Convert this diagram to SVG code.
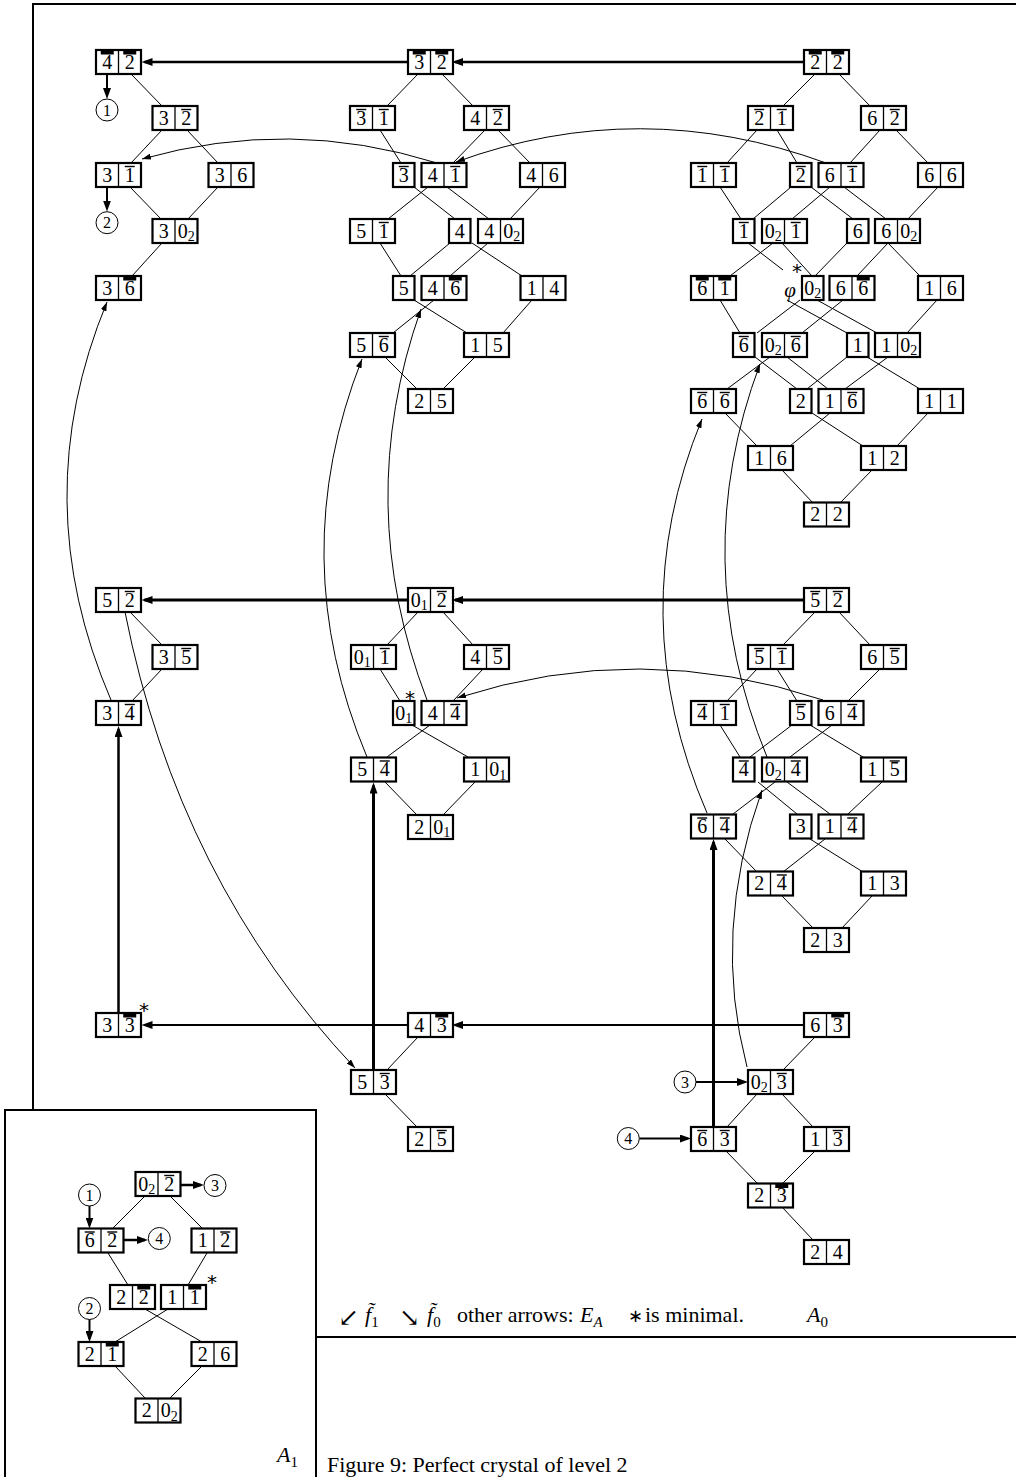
<svg xmlns="http://www.w3.org/2000/svg" width="1016" height="1477" viewBox="0 0 1016 1477">
<style>
.b{fill:#fff;stroke:#000;stroke-width:2.2}
.d{stroke:#000;stroke-width:1.3}
.o{stroke:#000;stroke-width:1.4}
.k{fill:#000}
.t{font-family:"Liberation Serif",serif;font-size:20px;text-anchor:middle;fill:#000}
.s{font-size:14px}
.e{stroke:#000;stroke-width:1;fill:none}
.arc{stroke:#000;stroke-width:1;fill:none;marker-end:url(#as)}
.th{stroke:#000;fill:none;marker-end:url(#ah)}
.ci{fill:none;stroke:#000;stroke-width:1}
.cn{font-family:"Liberation Serif",serif;font-size:16px;text-anchor:middle}
.fr{stroke:#000;stroke-width:2;fill:none}
.lg{font-family:"Liberation Serif",serif;font-size:22px}
.st{font-family:"DejaVu Sans",sans-serif;font-size:20px;text-anchor:middle}
</style>
<defs>
<marker id="ah" markerWidth="12" markerHeight="8" refX="8" refY="4" orient="auto" markerUnits="userSpaceOnUse"><path d="M0,0 L11,4 L0,8z"/></marker>
<marker id="as" markerWidth="10" markerHeight="6" refX="9" refY="3" orient="auto" markerUnits="userSpaceOnUse"><path d="M0,0 L9,3 L0,6z"/></marker>
</defs>
<rect width="1016" height="1477" fill="#fff"/>
<g id="frames">
<path class="fr" d="M33,1110 L33,4 L1016,4"/>
<path class="fr" d="M316,1337 L1016,1337"/>
<path class="fr" d="M5,1477 L5,1110 L316,1110 L316,1477"/>
</g>
<g id="connectors">
<path class="e" d="M131,74L162,106M162,130L131,163M187,130L218,163M130,187L161,219M218,187L188,219M162,243L132,276"/>
<path class="e" d="M418,74L387,106M442,74L473,106M380,130L401,163M485,130L453,163M498,130L530,163M414,187L455,219M428,187L388,219M447,187L489,219M540,187L510,219M380,243L401,276M450,243L410,276M472,243L522,276M488,243L450,276M414,300L467,333M434,300L393,333M532,300L503,333M385,357L417,389M475,357L443,389"/>
<path class="e" d="M815,74L783,106M839,74L870,106M757,130L727,163M777,130L797,163M880,130L850,163M896,130L928,163M720,187L741,219M791,187L753,219M811,187L853,219M830,187L792,219M844,187L886,219M938,187L908,219"/>
<path class="e" d="M773,243L730,276M748,243L783,270M782,243L812,276M847,243L815,276M888,243L857,276M888,243L920,276"/>
<path class="e" d="M720,300L740,333M800,300L757,333M787,300L847,333M843,300L802,333M817,300L877,333M937,300L907,333"/>
<path class="e" d="M755,357L797,389M770,357L727,389M787,357L828,389M847,357L807,389M867,357L920,389M888,357L845,389M725,413L757,446M830,413L790,446M812,413L863,446M928,413L897,446M782,470L813,503M872,470L840,503"/>
<path class="e" d="M130,612L162,645M162,669L132,701"/>
<path class="e" d="M418,612L387,645M443,612L473,645M380,669L400,701M483,669L453,701M412,725L468,757M430,725L387,757M385,782L417,815M475,782L443,815"/>
<path class="e" d="M815,612L783,645M839,612L870,645M757,669L727,701M777,669L797,701M880,669L848,701M720,725L740,757M792,725L750,757M832,725L790,757M810,725L863,757M775,782L733,814M758,782L797,814M787,782L830,814M882,782L848,814M725,839L757,872M825,839L783,872M810,839L863,872M782,896L813,928M872,896L842,928"/>
<path class="e" d="M418,1037L387,1070M385,1094L417,1127M815,1037L783,1070M757,1094L727,1127M782,1094L813,1127M726,1151L757,1183M815,1151L783,1183M782,1207L813,1240"/>
<path class="e" d="M145,1196L113,1228M170,1196L202,1228M108,1253L128,1285M207,1253L188,1285M145,1309L202,1342M168,1309L115,1342M115,1366L145,1398M202,1366L170,1398"/>
<path class="arc" d="M826,163 Q640,95 456,162"/>
<path class="arc" d="M437,163 Q290,117 142,159"/>
<path class="arc" d="M823,700 Q640,639 457,698"/>
<path class="arc" d="M111,700 Q25,500 107,302"/>
<path class="arc" d="M367,757 Q283.5,558 362,359"/>
<path class="arc" d="M427,700 Q352,504 421,309"/>
<path class="arc" d="M707,813 Q621.5,614.5 702,419"/>
<path class="arc" d="M767,757 Q686.5,560 760,364"/>
<path class="arc" d="M747,1067 Q711.5,931.5 762,790"/>
<path class="arc" d="M125,612 Q178,880 355,1068"/>
<path class="th" stroke-width="2.3" d="M804,62 L455,62"/>
<path class="th" stroke-width="2.3" d="M408,62 L144.5,62"/>
<path class="th" stroke-width="3" d="M804,600 L455,600"/>
<path class="th" stroke-width="3" d="M408,600 L144.5,600"/>
<path class="th" stroke-width="2" d="M804,1025 L455,1025"/>
<path class="th" stroke-width="2" d="M408,1025 L144.5,1025"/>
<path class="th" stroke-width="2.5" d="M118.5,1013 L118.5,729"/>
<path class="th" stroke-width="3" d="M373.5,1070 L373.5,785.5"/>
<path class="th" stroke-width="3" d="M713.5,1127 L713.5,842"/>
<path class="th" stroke-width="2" d="M107,74 L107,96"/>
<path class="th" stroke-width="2" d="M107,187 L107,208.5"/>
<path class="th" stroke-width="2" d="M696,1082 L745,1082"/>
<path class="th" stroke-width="2" d="M639.5,1138.5 L688,1138.5"/>
<path class="th" stroke-width="2" d="M89.5,1206 L89.5,1225.5"/>
<path class="th" stroke-width="2" d="M89.5,1319.5 L89.5,1339"/>
<path class="th" stroke-width="2.5" d="M180,1185 L201,1185"/>
<path class="th" stroke-width="2.5" d="M123.5,1240 L145,1240"/>
</g>
<g id="circles">
<circle class="ci" cx="107" cy="110" r="11"/><text class="cn" x="107" y="115.5">1</text>
<circle class="ci" cx="107" cy="222.7" r="11"/><text class="cn" x="107" y="228.2">2</text>
<circle class="ci" cx="685" cy="1082" r="11"/><text class="cn" x="685" y="1087.5">3</text>
<circle class="ci" cx="628.3" cy="1138.5" r="11"/><text class="cn" x="628.3" y="1144">4</text>
<circle class="ci" cx="89.5" cy="1195" r="11"/><text class="cn" x="89.5" y="1200.5">1</text>
<circle class="ci" cx="215" cy="1185.5" r="11"/><text class="cn" x="215" y="1191">3</text>
<circle class="ci" cx="159.3" cy="1238.5" r="11"/><text class="cn" x="159.3" y="1244">4</text>
<circle class="ci" cx="89.5" cy="1308.5" r="11"/><text class="cn" x="89.5" y="1314">2</text>
</g>
<g id="n1"><rect class="b" x="96" y="50" width="45" height="24"/><line class="d" x1="118.5" y1="50" x2="118.5" y2="74"/><rect class="k" x="100.75" y="50" width="13" height="4.5"/><rect class="k" x="123.25" y="50" width="13" height="4.5"/><text class="t" x="107.25" y="68.5">4</text><text class="t" x="129.75" y="68.5">2</text></g>
<g id="n2"><rect class="b" x="152.5" y="106" width="45" height="24"/><line class="d" x1="175" y1="106" x2="175" y2="130"/><line class="o" x1="181.25" y1="109.5" x2="191.25" y2="109.5"/><text class="t" x="163.75" y="124.5">3</text><text class="t" x="186.25" y="124.5">2</text></g>
<g id="n3"><rect class="b" x="96" y="163" width="45" height="24"/><line class="d" x1="118.5" y1="163" x2="118.5" y2="187"/><line class="o" x1="124.75" y1="166.5" x2="134.75" y2="166.5"/><text class="t" x="107.25" y="181.5">3</text><text class="t" x="129.75" y="181.5">1</text></g>
<g id="n4"><rect class="b" x="208.5" y="163" width="45" height="24"/><line class="d" x1="231" y1="163" x2="231" y2="187"/><text class="t" x="219.75" y="181.5">3</text><text class="t" x="242.25" y="181.5">6</text></g>
<g id="n5"><rect class="b" x="152.5" y="219" width="45" height="24"/><line class="d" x1="175" y1="219" x2="175" y2="243"/><text class="t" x="163.75" y="237.5">3</text><text class="t" x="186.25" y="237.5">0<tspan class="s" dy="3.5">2</tspan></text></g>
<g id="n6"><rect class="b" x="96" y="276" width="45" height="24"/><line class="d" x1="118.5" y1="276" x2="118.5" y2="300"/><rect class="k" x="123.25" y="276" width="13" height="4.5"/><text class="t" x="107.25" y="294.5">3</text><text class="t" x="129.75" y="294.5">6</text></g>
<g id="n7"><rect class="b" x="408" y="50" width="45" height="24"/><line class="d" x1="430.5" y1="50" x2="430.5" y2="74"/><rect class="k" x="412.75" y="50" width="13" height="4.5"/><rect class="k" x="435.25" y="50" width="13" height="4.5"/><text class="t" x="419.25" y="68.5">3</text><text class="t" x="441.75" y="68.5">2</text></g>
<g id="n8"><rect class="b" x="350" y="106" width="45" height="24"/><line class="d" x1="372.5" y1="106" x2="372.5" y2="130"/><line class="o" x1="356.25" y1="109.5" x2="366.25" y2="109.5"/><line class="o" x1="378.75" y1="109.5" x2="388.75" y2="109.5"/><text class="t" x="361.25" y="124.5">3</text><text class="t" x="383.75" y="124.5">1</text></g>
<g id="n9"><rect class="b" x="464" y="106" width="45" height="24"/><line class="d" x1="486.5" y1="106" x2="486.5" y2="130"/><line class="o" x1="492.75" y1="109.5" x2="502.75" y2="109.5"/><text class="t" x="475.25" y="124.5">4</text><text class="t" x="497.75" y="124.5">2</text></g>
<g id="n10"><rect class="b" x="393" y="163" width="21.5" height="24"/><line class="o" x1="398.75" y1="166.5" x2="408.75" y2="166.5"/><text class="t" x="403.75" y="181.5">3</text></g>
<g id="n11"><rect class="b" x="421.5" y="163" width="45" height="24"/><line class="d" x1="444" y1="163" x2="444" y2="187"/><line class="o" x1="450.25" y1="166.5" x2="460.25" y2="166.5"/><text class="t" x="432.75" y="181.5">4</text><text class="t" x="455.25" y="181.5">1</text></g>
<g id="n12"><rect class="b" x="520" y="163" width="45" height="24"/><line class="d" x1="542.5" y1="163" x2="542.5" y2="187"/><text class="t" x="531.25" y="181.5">4</text><text class="t" x="553.75" y="181.5">6</text></g>
<g id="n13"><rect class="b" x="350" y="219" width="45" height="24"/><line class="d" x1="372.5" y1="219" x2="372.5" y2="243"/><line class="o" x1="378.75" y1="222.5" x2="388.75" y2="222.5"/><text class="t" x="361.25" y="237.5">5</text><text class="t" x="383.75" y="237.5">1</text></g>
<g id="n14"><rect class="b" x="449" y="219" width="21.5" height="24"/><text class="t" x="459.75" y="237.5">4</text></g>
<g id="n15"><rect class="b" x="478" y="219" width="45" height="24"/><line class="d" x1="500.5" y1="219" x2="500.5" y2="243"/><text class="t" x="489.25" y="237.5">4</text><text class="t" x="511.75" y="237.5">0<tspan class="s" dy="3.5">2</tspan></text></g>
<g id="n16"><rect class="b" x="393" y="276" width="21.5" height="24"/><text class="t" x="403.75" y="294.5">5</text></g>
<g id="n17"><rect class="b" x="421.5" y="276" width="45" height="24"/><line class="d" x1="444" y1="276" x2="444" y2="300"/><rect class="k" x="448.75" y="276" width="13" height="4.5"/><text class="t" x="432.75" y="294.5">4</text><text class="t" x="455.25" y="294.5">6</text></g>
<g id="n18"><rect class="b" x="520.5" y="276" width="45" height="24"/><line class="d" x1="543" y1="276" x2="543" y2="300"/><text class="t" x="531.75" y="294.5">1</text><text class="t" x="554.25" y="294.5">4</text></g>
<g id="n19"><rect class="b" x="350" y="333" width="45" height="24"/><line class="d" x1="372.5" y1="333" x2="372.5" y2="357"/><line class="o" x1="378.75" y1="336.5" x2="388.75" y2="336.5"/><text class="t" x="361.25" y="351.5">5</text><text class="t" x="383.75" y="351.5">6</text></g>
<g id="n20"><rect class="b" x="464" y="333" width="45" height="24"/><line class="d" x1="486.5" y1="333" x2="486.5" y2="357"/><text class="t" x="475.25" y="351.5">1</text><text class="t" x="497.75" y="351.5">5</text></g>
<g id="n21"><rect class="b" x="408" y="389" width="45" height="24"/><line class="d" x1="430.5" y1="389" x2="430.5" y2="413"/><text class="t" x="419.25" y="407.5">2</text><text class="t" x="441.75" y="407.5">5</text></g>
<g id="n22"><rect class="b" x="804" y="50" width="45" height="24"/><line class="d" x1="826.5" y1="50" x2="826.5" y2="74"/><rect class="k" x="808.75" y="50" width="13" height="4.5"/><rect class="k" x="831.25" y="50" width="13" height="4.5"/><text class="t" x="815.25" y="68.5">2</text><text class="t" x="837.75" y="68.5">2</text></g>
<g id="n23"><rect class="b" x="748" y="106" width="45" height="24"/><line class="d" x1="770.5" y1="106" x2="770.5" y2="130"/><line class="o" x1="754.25" y1="109.5" x2="764.25" y2="109.5"/><line class="o" x1="776.75" y1="109.5" x2="786.75" y2="109.5"/><text class="t" x="759.25" y="124.5">2</text><text class="t" x="781.75" y="124.5">1</text></g>
<g id="n24"><rect class="b" x="861" y="106" width="45" height="24"/><line class="d" x1="883.5" y1="106" x2="883.5" y2="130"/><line class="o" x1="889.75" y1="109.5" x2="899.75" y2="109.5"/><text class="t" x="872.25" y="124.5">6</text><text class="t" x="894.75" y="124.5">2</text></g>
<g id="n25"><rect class="b" x="691" y="163" width="45" height="24"/><line class="d" x1="713.5" y1="163" x2="713.5" y2="187"/><line class="o" x1="697.25" y1="166.5" x2="707.25" y2="166.5"/><line class="o" x1="719.75" y1="166.5" x2="729.75" y2="166.5"/><text class="t" x="702.25" y="181.5">1</text><text class="t" x="724.75" y="181.5">1</text></g>
<g id="n26"><rect class="b" x="790" y="163" width="21.5" height="24"/><line class="o" x1="795.75" y1="166.5" x2="805.75" y2="166.5"/><text class="t" x="800.75" y="181.5">2</text></g>
<g id="n27"><rect class="b" x="818.5" y="163" width="45" height="24"/><line class="d" x1="841" y1="163" x2="841" y2="187"/><line class="o" x1="847.25" y1="166.5" x2="857.25" y2="166.5"/><text class="t" x="829.75" y="181.5">6</text><text class="t" x="852.25" y="181.5">1</text></g>
<g id="n28"><rect class="b" x="918" y="163" width="45" height="24"/><line class="d" x1="940.5" y1="163" x2="940.5" y2="187"/><text class="t" x="929.25" y="181.5">6</text><text class="t" x="951.75" y="181.5">6</text></g>
<g id="n29"><rect class="b" x="733" y="219" width="21.5" height="24"/><line class="o" x1="738.75" y1="222.5" x2="748.75" y2="222.5"/><text class="t" x="743.75" y="237.5">1</text></g>
<g id="n30"><rect class="b" x="762" y="219" width="45" height="24"/><line class="d" x1="784.5" y1="219" x2="784.5" y2="243"/><line class="o" x1="790.75" y1="222.5" x2="800.75" y2="222.5"/><text class="t" x="773.25" y="237.5">0<tspan class="s" dy="3.5">2</tspan></text><text class="t" x="795.75" y="237.5">1</text></g>
<g id="n31"><rect class="b" x="847" y="219" width="21.5" height="24"/><text class="t" x="857.75" y="237.5">6</text></g>
<g id="n32"><rect class="b" x="875" y="219" width="45" height="24"/><line class="d" x1="897.5" y1="219" x2="897.5" y2="243"/><text class="t" x="886.25" y="237.5">6</text><text class="t" x="908.75" y="237.5">0<tspan class="s" dy="3.5">2</tspan></text></g>
<g id="n33"><rect class="b" x="691" y="276" width="45" height="24"/><line class="d" x1="713.5" y1="276" x2="713.5" y2="300"/><rect class="k" x="695.75" y="276" width="13" height="4.5"/><rect class="k" x="718.25" y="276" width="13" height="4.5"/><text class="t" x="702.25" y="294.5">6</text><text class="t" x="724.75" y="294.5">1</text></g>
<g id="n34"><text x="790" y="297" font-family="Liberation Serif" font-style="italic" font-size="21" text-anchor="middle">φ</text><text class="st" x="797" y="278" font-size="18">*</text></g>
<g id="n35"><rect class="b" x="802" y="276" width="21.5" height="24"/><text class="t" x="812.75" y="294.5">0<tspan class="s" dy="3.5">2</tspan></text></g>
<g id="n36"><rect class="b" x="829.5" y="276" width="45" height="24"/><line class="d" x1="852" y1="276" x2="852" y2="300"/><rect class="k" x="856.75" y="276" width="13" height="4.5"/><text class="t" x="840.75" y="294.5">6</text><text class="t" x="863.25" y="294.5">6</text></g>
<g id="n37"><rect class="b" x="918" y="276" width="45" height="24"/><line class="d" x1="940.5" y1="276" x2="940.5" y2="300"/><text class="t" x="929.25" y="294.5">1</text><text class="t" x="951.75" y="294.5">6</text></g>
<g id="n38"><rect class="b" x="733" y="333" width="21.5" height="24"/><line class="o" x1="738.75" y1="336.5" x2="748.75" y2="336.5"/><text class="t" x="743.75" y="351.5">6</text></g>
<g id="n39"><rect class="b" x="762" y="333" width="45" height="24"/><line class="d" x1="784.5" y1="333" x2="784.5" y2="357"/><line class="o" x1="790.75" y1="336.5" x2="800.75" y2="336.5"/><text class="t" x="773.25" y="351.5">0<tspan class="s" dy="3.5">2</tspan></text><text class="t" x="795.75" y="351.5">6</text></g>
<g id="n40"><rect class="b" x="847" y="333" width="21.5" height="24"/><text class="t" x="857.75" y="351.5">1</text></g>
<g id="n41"><rect class="b" x="875" y="333" width="45" height="24"/><line class="d" x1="897.5" y1="333" x2="897.5" y2="357"/><text class="t" x="886.25" y="351.5">1</text><text class="t" x="908.75" y="351.5">0<tspan class="s" dy="3.5">2</tspan></text></g>
<g id="n42"><rect class="b" x="691" y="389" width="45" height="24"/><line class="d" x1="713.5" y1="389" x2="713.5" y2="413"/><line class="o" x1="697.25" y1="392.5" x2="707.25" y2="392.5"/><line class="o" x1="719.75" y1="392.5" x2="729.75" y2="392.5"/><text class="t" x="702.25" y="407.5">6</text><text class="t" x="724.75" y="407.5">6</text></g>
<g id="n43"><rect class="b" x="790" y="389" width="21.5" height="24"/><text class="t" x="800.75" y="407.5">2</text></g>
<g id="n44"><rect class="b" x="818.5" y="389" width="45" height="24"/><line class="d" x1="841" y1="389" x2="841" y2="413"/><line class="o" x1="847.25" y1="392.5" x2="857.25" y2="392.5"/><text class="t" x="829.75" y="407.5">1</text><text class="t" x="852.25" y="407.5">6</text></g>
<g id="n45"><rect class="b" x="918" y="389" width="45" height="24"/><line class="d" x1="940.5" y1="389" x2="940.5" y2="413"/><text class="t" x="929.25" y="407.5">1</text><text class="t" x="951.75" y="407.5">1</text></g>
<g id="n46"><rect class="b" x="748" y="446" width="45" height="24"/><line class="d" x1="770.5" y1="446" x2="770.5" y2="470"/><text class="t" x="759.25" y="464.5">1</text><text class="t" x="781.75" y="464.5">6</text></g>
<g id="n47"><rect class="b" x="861" y="446" width="45" height="24"/><line class="d" x1="883.5" y1="446" x2="883.5" y2="470"/><text class="t" x="872.25" y="464.5">1</text><text class="t" x="894.75" y="464.5">2</text></g>
<g id="n48"><rect class="b" x="804" y="502.5" width="45" height="24"/><line class="d" x1="826.5" y1="502.5" x2="826.5" y2="526.5"/><text class="t" x="815.25" y="521">2</text><text class="t" x="837.75" y="521">2</text></g>
<g id="n49"><rect class="b" x="96" y="588" width="45" height="24"/><line class="d" x1="118.5" y1="588" x2="118.5" y2="612"/><line class="o" x1="124.75" y1="591.5" x2="134.75" y2="591.5"/><text class="t" x="107.25" y="606.5">5</text><text class="t" x="129.75" y="606.5">2</text></g>
<g id="n50"><rect class="b" x="152.5" y="645" width="45" height="24"/><line class="d" x1="175" y1="645" x2="175" y2="669"/><line class="o" x1="181.25" y1="648.5" x2="191.25" y2="648.5"/><text class="t" x="163.75" y="663.5">3</text><text class="t" x="186.25" y="663.5">5</text></g>
<g id="n51"><rect class="b" x="96" y="701" width="45" height="24"/><line class="d" x1="118.5" y1="701" x2="118.5" y2="725"/><line class="o" x1="124.75" y1="704.5" x2="134.75" y2="704.5"/><text class="t" x="107.25" y="719.5">3</text><text class="t" x="129.75" y="719.5">4</text></g>
<g id="n52"><rect class="b" x="408" y="588" width="45" height="24"/><line class="d" x1="430.5" y1="588" x2="430.5" y2="612"/><line class="o" x1="436.75" y1="591.5" x2="446.75" y2="591.5"/><text class="t" x="419.25" y="606.5">0<tspan class="s" dy="3.5">1</tspan></text><text class="t" x="441.75" y="606.5">2</text></g>
<g id="n53"><rect class="b" x="351" y="645" width="45" height="24"/><line class="d" x1="373.5" y1="645" x2="373.5" y2="669"/><line class="o" x1="379.75" y1="648.5" x2="389.75" y2="648.5"/><text class="t" x="362.25" y="663.5">0<tspan class="s" dy="3.5">1</tspan></text><text class="t" x="384.75" y="663.5">1</text></g>
<g id="n54"><rect class="b" x="464" y="645" width="45" height="24"/><line class="d" x1="486.5" y1="645" x2="486.5" y2="669"/><line class="o" x1="492.75" y1="648.5" x2="502.75" y2="648.5"/><text class="t" x="475.25" y="663.5">4</text><text class="t" x="497.75" y="663.5">5</text></g>
<g id="n55"><rect class="b" x="393" y="701" width="21.5" height="24"/><text class="t" x="403.75" y="719.5">0<tspan class="s" dy="3.5">1</tspan></text><text class="st" x="410" y="705">*</text></g>
<g id="n56"><rect class="b" x="421.5" y="701" width="45" height="24"/><line class="d" x1="444" y1="701" x2="444" y2="725"/><line class="o" x1="450.25" y1="704.5" x2="460.25" y2="704.5"/><text class="t" x="432.75" y="719.5">4</text><text class="t" x="455.25" y="719.5">4</text></g>
<g id="n57"><rect class="b" x="351" y="757.5" width="45" height="24"/><line class="d" x1="373.5" y1="757.5" x2="373.5" y2="781.5"/><line class="o" x1="379.75" y1="761" x2="389.75" y2="761"/><text class="t" x="362.25" y="776">5</text><text class="t" x="384.75" y="776">4</text></g>
<g id="n58"><rect class="b" x="464" y="757.5" width="45" height="24"/><line class="d" x1="486.5" y1="757.5" x2="486.5" y2="781.5"/><text class="t" x="475.25" y="776">1</text><text class="t" x="497.75" y="776">0<tspan class="s" dy="3.5">1</tspan></text></g>
<g id="n59"><rect class="b" x="408" y="815" width="45" height="24"/><line class="d" x1="430.5" y1="815" x2="430.5" y2="839"/><text class="t" x="419.25" y="833.5">2</text><text class="t" x="441.75" y="833.5">0<tspan class="s" dy="3.5">1</tspan></text></g>
<g id="n60"><rect class="b" x="804" y="588" width="45" height="24"/><line class="d" x1="826.5" y1="588" x2="826.5" y2="612"/><line class="o" x1="810.25" y1="591.5" x2="820.25" y2="591.5"/><line class="o" x1="832.75" y1="591.5" x2="842.75" y2="591.5"/><text class="t" x="815.25" y="606.5">5</text><text class="t" x="837.75" y="606.5">2</text></g>
<g id="n61"><rect class="b" x="748" y="645" width="45" height="24"/><line class="d" x1="770.5" y1="645" x2="770.5" y2="669"/><line class="o" x1="754.25" y1="648.5" x2="764.25" y2="648.5"/><line class="o" x1="776.75" y1="648.5" x2="786.75" y2="648.5"/><text class="t" x="759.25" y="663.5">5</text><text class="t" x="781.75" y="663.5">1</text></g>
<g id="n62"><rect class="b" x="861" y="645" width="45" height="24"/><line class="d" x1="883.5" y1="645" x2="883.5" y2="669"/><line class="o" x1="889.75" y1="648.5" x2="899.75" y2="648.5"/><text class="t" x="872.25" y="663.5">6</text><text class="t" x="894.75" y="663.5">5</text></g>
<g id="n63"><rect class="b" x="691" y="701" width="45" height="24"/><line class="d" x1="713.5" y1="701" x2="713.5" y2="725"/><line class="o" x1="697.25" y1="704.5" x2="707.25" y2="704.5"/><line class="o" x1="719.75" y1="704.5" x2="729.75" y2="704.5"/><text class="t" x="702.25" y="719.5">4</text><text class="t" x="724.75" y="719.5">1</text></g>
<g id="n64"><rect class="b" x="790" y="701" width="21.5" height="24"/><line class="o" x1="795.75" y1="704.5" x2="805.75" y2="704.5"/><text class="t" x="800.75" y="719.5">5</text></g>
<g id="n65"><rect class="b" x="818.5" y="701" width="45" height="24"/><line class="d" x1="841" y1="701" x2="841" y2="725"/><line class="o" x1="847.25" y1="704.5" x2="857.25" y2="704.5"/><text class="t" x="829.75" y="719.5">6</text><text class="t" x="852.25" y="719.5">4</text></g>
<g id="n66"><rect class="b" x="733" y="757.5" width="21.5" height="24"/><line class="o" x1="738.75" y1="761" x2="748.75" y2="761"/><text class="t" x="743.75" y="776">4</text></g>
<g id="n67"><rect class="b" x="762" y="757.5" width="45" height="24"/><line class="d" x1="784.5" y1="757.5" x2="784.5" y2="781.5"/><line class="o" x1="790.75" y1="761" x2="800.75" y2="761"/><text class="t" x="773.25" y="776">0<tspan class="s" dy="3.5">2</tspan></text><text class="t" x="795.75" y="776">4</text></g>
<g id="n68"><rect class="b" x="861" y="757.5" width="45" height="24"/><line class="d" x1="883.5" y1="757.5" x2="883.5" y2="781.5"/><line class="o" x1="889.75" y1="761" x2="899.75" y2="761"/><text class="t" x="872.25" y="776">1</text><text class="t" x="894.75" y="776">5</text></g>
<g id="n69"><rect class="b" x="691" y="814.5" width="45" height="24"/><line class="d" x1="713.5" y1="814.5" x2="713.5" y2="838.5"/><line class="o" x1="697.25" y1="818" x2="707.25" y2="818"/><line class="o" x1="719.75" y1="818" x2="729.75" y2="818"/><text class="t" x="702.25" y="833">6</text><text class="t" x="724.75" y="833">4</text></g>
<g id="n70"><rect class="b" x="790" y="814.5" width="21.5" height="24"/><text class="t" x="800.75" y="833">3</text></g>
<g id="n71"><rect class="b" x="818.5" y="814.5" width="45" height="24"/><line class="d" x1="841" y1="814.5" x2="841" y2="838.5"/><line class="o" x1="847.25" y1="818" x2="857.25" y2="818"/><text class="t" x="829.75" y="833">1</text><text class="t" x="852.25" y="833">4</text></g>
<g id="n72"><rect class="b" x="748" y="871.5" width="45" height="24"/><line class="d" x1="770.5" y1="871.5" x2="770.5" y2="895.5"/><line class="o" x1="776.75" y1="875" x2="786.75" y2="875"/><text class="t" x="759.25" y="890">2</text><text class="t" x="781.75" y="890">4</text></g>
<g id="n73"><rect class="b" x="861" y="871.5" width="45" height="24"/><line class="d" x1="883.5" y1="871.5" x2="883.5" y2="895.5"/><text class="t" x="872.25" y="890">1</text><text class="t" x="894.75" y="890">3</text></g>
<g id="n74"><rect class="b" x="804" y="928" width="45" height="24"/><line class="d" x1="826.5" y1="928" x2="826.5" y2="952"/><text class="t" x="815.25" y="946.5">2</text><text class="t" x="837.75" y="946.5">3</text></g>
<g id="n75"><rect class="b" x="96" y="1013" width="45" height="24"/><line class="d" x1="118.5" y1="1013" x2="118.5" y2="1037"/><rect class="k" x="123.25" y="1013" width="13" height="4.5"/><text class="t" x="107.25" y="1031.5">3</text><text class="t" x="129.75" y="1031.5">3</text><text class="st" x="144" y="1017">*</text></g>
<g id="n76"><rect class="b" x="408" y="1013" width="45" height="24"/><line class="d" x1="430.5" y1="1013" x2="430.5" y2="1037"/><rect class="k" x="435.25" y="1013" width="13" height="4.5"/><text class="t" x="419.25" y="1031.5">4</text><text class="t" x="441.75" y="1031.5">3</text></g>
<g id="n77"><rect class="b" x="351" y="1070" width="45" height="24"/><line class="d" x1="373.5" y1="1070" x2="373.5" y2="1094"/><line class="o" x1="379.75" y1="1073.5" x2="389.75" y2="1073.5"/><text class="t" x="362.25" y="1088.5">5</text><text class="t" x="384.75" y="1088.5">3</text></g>
<g id="n78"><rect class="b" x="408" y="1127" width="45" height="24"/><line class="d" x1="430.5" y1="1127" x2="430.5" y2="1151"/><line class="o" x1="436.75" y1="1130.5" x2="446.75" y2="1130.5"/><text class="t" x="419.25" y="1145.5">2</text><text class="t" x="441.75" y="1145.5">5</text></g>
<g id="n79"><rect class="b" x="804" y="1013" width="45" height="24"/><line class="d" x1="826.5" y1="1013" x2="826.5" y2="1037"/><rect class="k" x="831.25" y="1013" width="13" height="4.5"/><text class="t" x="815.25" y="1031.5">6</text><text class="t" x="837.75" y="1031.5">3</text></g>
<g id="n80"><rect class="b" x="748" y="1070" width="45" height="24"/><line class="d" x1="770.5" y1="1070" x2="770.5" y2="1094"/><line class="o" x1="776.75" y1="1073.5" x2="786.75" y2="1073.5"/><text class="t" x="759.25" y="1088.5">0<tspan class="s" dy="3.5">2</tspan></text><text class="t" x="781.75" y="1088.5">3</text></g>
<g id="n81"><rect class="b" x="691" y="1127" width="45" height="24"/><line class="d" x1="713.5" y1="1127" x2="713.5" y2="1151"/><line class="o" x1="697.25" y1="1130.5" x2="707.25" y2="1130.5"/><line class="o" x1="719.75" y1="1130.5" x2="729.75" y2="1130.5"/><text class="t" x="702.25" y="1145.5">6</text><text class="t" x="724.75" y="1145.5">3</text></g>
<g id="n82"><rect class="b" x="804" y="1127" width="45" height="24"/><line class="d" x1="826.5" y1="1127" x2="826.5" y2="1151"/><line class="o" x1="832.75" y1="1130.5" x2="842.75" y2="1130.5"/><text class="t" x="815.25" y="1145.5">1</text><text class="t" x="837.75" y="1145.5">3</text></g>
<g id="n83"><rect class="b" x="748" y="1183.5" width="45" height="24"/><line class="d" x1="770.5" y1="1183.5" x2="770.5" y2="1207.5"/><rect class="k" x="775.25" y="1183.5" width="13" height="4.5"/><text class="t" x="759.25" y="1202">2</text><text class="t" x="781.75" y="1202">3</text></g>
<g id="n84"><rect class="b" x="804" y="1240" width="45" height="24"/><line class="d" x1="826.5" y1="1240" x2="826.5" y2="1264"/><text class="t" x="815.25" y="1258.5">2</text><text class="t" x="837.75" y="1258.5">4</text></g>
<g id="a1"><rect class="b" x="135.5" y="1172" width="45" height="24"/><line class="d" x1="158" y1="1172" x2="158" y2="1196"/><line class="o" x1="164.25" y1="1175.5" x2="174.25" y2="1175.5"/><text class="t" x="146.75" y="1190.5">0<tspan class="s" dy="3.5">2</tspan></text><text class="t" x="169.25" y="1190.5">2</text></g>
<g id="a2"><rect class="b" x="78.5" y="1228.5" width="45" height="24"/><line class="d" x1="101" y1="1228.5" x2="101" y2="1252.5"/><line class="o" x1="84.75" y1="1232" x2="94.75" y2="1232"/><line class="o" x1="107.25" y1="1232" x2="117.25" y2="1232"/><text class="t" x="89.75" y="1247">6</text><text class="t" x="112.25" y="1247">2</text></g>
<g id="a3"><rect class="b" x="191.5" y="1228.5" width="45" height="24"/><line class="d" x1="214" y1="1228.5" x2="214" y2="1252.5"/><line class="o" x1="220.25" y1="1232" x2="230.25" y2="1232"/><text class="t" x="202.75" y="1247">1</text><text class="t" x="225.25" y="1247">2</text></g>
<g id="a4"><rect class="b" x="110" y="1285" width="45" height="24"/><line class="d" x1="132.5" y1="1285" x2="132.5" y2="1309"/><rect class="k" x="137.25" y="1285" width="13" height="4.5"/><text class="t" x="121.25" y="1303.5">2</text><text class="t" x="143.75" y="1303.5">2</text></g>
<g id="a5"><rect class="b" x="161" y="1285" width="45" height="24"/><line class="d" x1="183.5" y1="1285" x2="183.5" y2="1309"/><rect class="k" x="188.25" y="1285" width="13" height="4.5"/><text class="t" x="172.25" y="1303.5">1</text><text class="t" x="194.75" y="1303.5">1</text><text class="st" x="212" y="1289">*</text></g>
<g id="a6"><rect class="b" x="78.5" y="1342" width="45" height="24"/><line class="d" x1="101" y1="1342" x2="101" y2="1366"/><rect class="k" x="105.75" y="1342" width="13" height="4.5"/><text class="t" x="89.75" y="1360.5">2</text><text class="t" x="112.25" y="1360.5">1</text></g>
<g id="a7"><rect class="b" x="191.5" y="1342" width="45" height="24"/><line class="d" x1="214" y1="1342" x2="214" y2="1366"/><text class="t" x="202.75" y="1360.5">2</text><text class="t" x="225.25" y="1360.5">6</text></g>
<g id="a8"><rect class="b" x="135.5" y="1398.5" width="45" height="24"/><line class="d" x1="158" y1="1398.5" x2="158" y2="1422.5"/><text class="t" x="146.75" y="1417">2</text><text class="t" x="169.25" y="1417">0<tspan class="s" dy="3.5">2</tspan></text></g>
<g id="legend">
<text x="338" y="1326" font-family="DejaVu Serif" font-size="25">↙</text>
<text class="lg" x="365" y="1322" font-style="italic">f&#x303;<tspan font-size="15" font-style="normal" dy="5">1</tspan></text>
<text x="399" y="1326" font-family="DejaVu Serif" font-size="25">↘</text>
<text class="lg" x="427" y="1322" font-style="italic">f&#x303;<tspan font-size="15" font-style="normal" dy="5">0</tspan></text>
<text class="lg" x="457" y="1322">other arrows:</text>
<text class="lg" x="580" y="1322" font-style="italic">E<tspan font-size="15" dy="5">A</tspan></text>
<text x="628" y="1322" font-family="DejaVu Sans" font-size="18">∗</text>
<text class="lg" x="645" y="1322">is minimal.</text>
<text class="lg" x="807" y="1322" font-size="25" font-style="italic">A<tspan font-size="15" font-style="normal" dy="5">0</tspan></text>
<text class="lg" x="277" y="1462" font-size="25" font-style="italic">A<tspan font-size="15" font-style="normal" dy="5">1</tspan></text>
<text class="lg" x="327" y="1472" font-size="21">Figure 9: Perfect crystal of level 2</text>
</g>
</svg>
